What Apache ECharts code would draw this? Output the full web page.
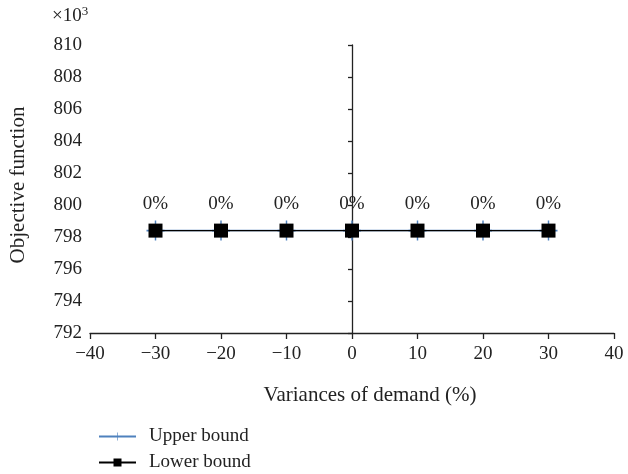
<!DOCTYPE html>
<html><head><meta charset="utf-8">
<script src="https://cdn.jsdelivr.net/npm/echarts@6/dist/echarts.min.js"></script>
<style>html,body{margin:0;padding:0;background:#fff}#c{width:628px;height:474px}</style>
</head><body><div id="c"></div>
<script>
const variances = [-30, -20, -10, 0, 10, 20, 30];
const upperBound = [798.4, 798.4, 798.4, 798.4, 798.4, 798.4, 798.4];
const lowerBound = [798.4, 798.4, 798.4, 798.4, 798.4, 798.4, 798.4];
const pointLabels = ['0%', '0%', '0%', '0%', '0%', '0%', '0%'];

const FONT = '"Liberation Serif", "DejaVu Serif", serif';
const chart = echarts.init(document.getElementById('c'), null, {renderer: 'canvas'});
const plus = 'path://M4.6,0H5.4V4.6H10V5.4H5.4V10H4.6V5.4H0V4.6H4.6Z';
const legendText = {fontFamily: FONT, fontSize: 19, color: '#222', padding: [0, 0, 0, 8]};

chart.setOption({
  animation: false,
  grid: {left: 89, right: 14, top: 45, bottom: 141},
  xAxis: {
    type: 'value', min: -40, max: 40, interval: 10,
    name: 'Variances of demand (%)', nameLocation: 'middle', nameGap: 52,
    nameTextStyle: {fontFamily: FONT, fontSize: 21, color: '#222', padding: [0, 0, 0, 36]},
    axisLine: {onZero: false, lineStyle: {color: '#222', width: 1.3}},
    axisTick: {show: true, length: 6, lineStyle: {color: '#222', width: 1.3}},
    axisLabel: {fontFamily: FONT, fontSize: 19, color: '#222', margin: 12,
      formatter: v => v < 0 ? '\u2212' + Math.abs(v) : String(v)},
    splitLine: {show: false}
  },
  yAxis: [{
    type: 'value', min: 792, max: 810, interval: 2, position: 'left',
    name: 'Objective function', nameLocation: 'middle', nameGap: 61,
    nameTextStyle: {fontFamily: FONT, fontSize: 21, color: '#222', padding: [0, 0, 0, 8]},
    axisLine: {show: false, onZero: false},
    axisTick: {show: false},
    axisLabel: {fontFamily: FONT, fontSize: 19, color: '#222', margin: 8},
    splitLine: {show: false}
  }, {
    type: 'value', min: 792, max: 810, interval: 2, position: 'left',
    axisLine: {show: true, onZero: true, lineStyle: {color: '#222', width: 1.3}},
    axisTick: {show: true, length: 4, lineStyle: {color: '#222', width: 1.3}},
    axisLabel: {show: false},
    splitLine: {show: false}
  }],
  legend: [{
    orient: 'vertical', left: 93, top: 422, itemWidth: 37, itemHeight: 10,
    textStyle: legendText, data: ['Upper bound']
  }, {
    orient: 'vertical', left: 93, top: 448, itemWidth: 37, itemHeight: 10,
    textStyle: legendText, data: ['Lower bound']
  }],
  graphic: [{
    type: 'text', left: 52, top: 5,
    style: {
      text: '×10{s|3}', fontFamily: FONT, fontSize: 19, fill: '#222',
      rich: {s: {fontFamily: FONT, fontSize: 13, verticalAlign: 'top', padding: [0, 0, 9, 0]}}
    }
  }],
  series: [{
    name: 'Upper bound', type: 'line', yAxisIndex: 0,
    data: variances.map((x, i) => [x, upperBound[i]]),
    symbol: plus, symbolSize: [18, 20],
    lineStyle: {color: '#4f81bd', width: 1.5},
    itemStyle: {color: '#4f81bd'},
    z: 2
  }, {
    name: 'Lower bound', type: 'line', yAxisIndex: 0,
    data: variances.map((x, i) => [x, lowerBound[i]]),
    symbol: 'rect', symbolSize: 14,
    lineStyle: {color: '#000', width: 1.3},
    itemStyle: {color: '#000'},
    label: {show: true, position: 'top', distance: 10, fontFamily: FONT, fontSize: 19, color: '#222',
      formatter: p => pointLabels[p.dataIndex]},
    z: 3
  }]
});
</script></body></html>
